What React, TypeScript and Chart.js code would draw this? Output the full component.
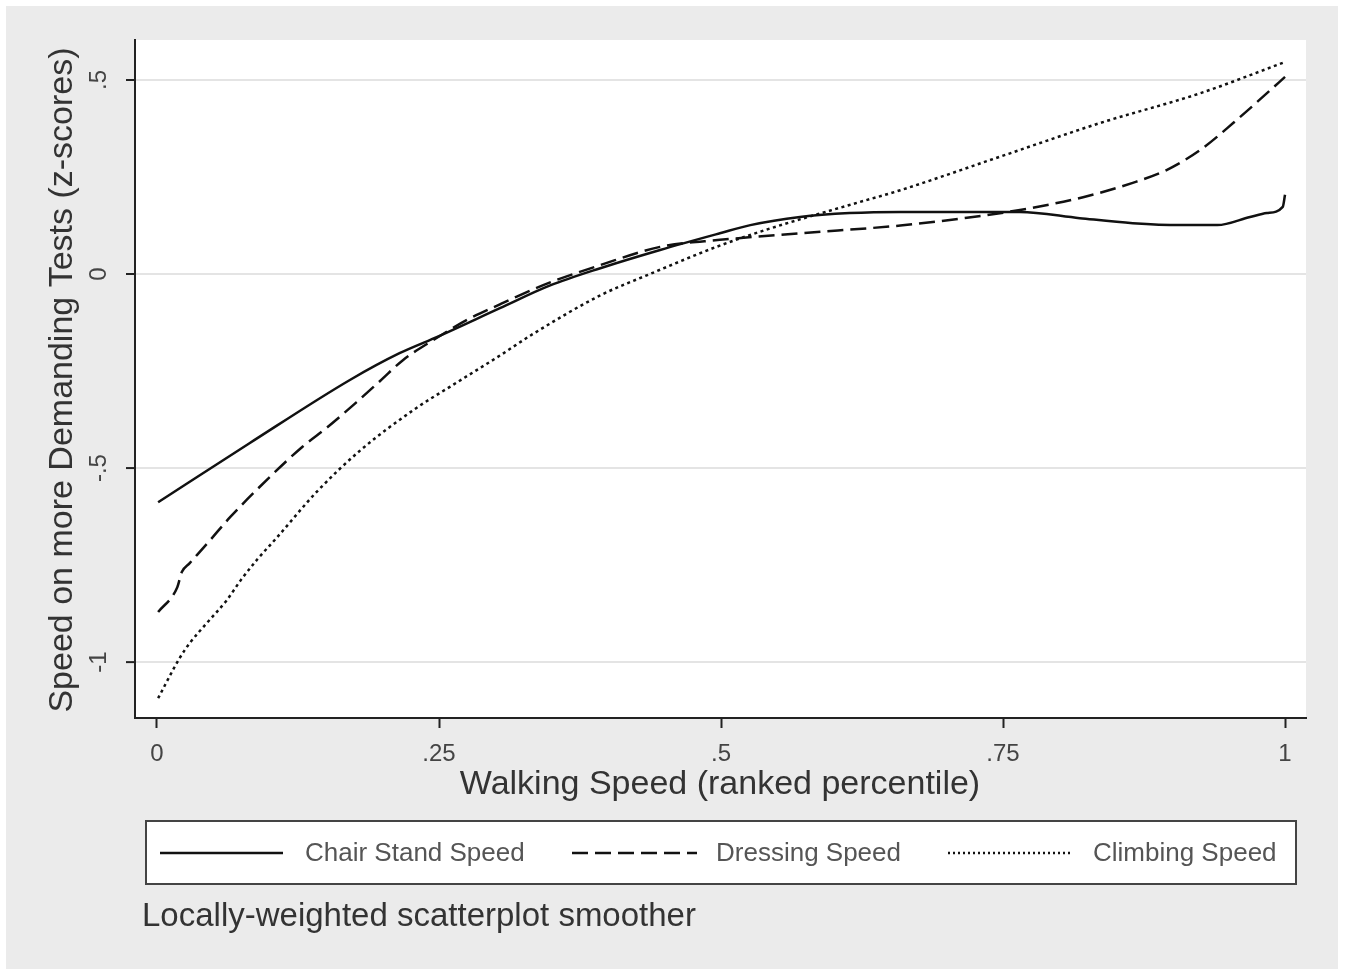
import React, { useEffect, useRef } from 'react';
import { Chart, registerables } from 'chart.js';

Chart.register(...registerables);

const xTicks = [0, 0.25, 0.5, 0.75, 1];
const xTickLabels = ['0', '.25', '.5', '.75', '1'];
const yTicks = [-1, -0.5, 0, 0.5];
const yTickLabels = ['-1', '-.5', '0', '.5'];

const seriesNames = ['Chair Stand Speed', 'Dressing Speed', 'Climbing Speed'];

const chairX = [0.001, 0.082, 0.171, 0.215, 0.25, 0.304, 0.348, 0.393, 0.446, 0.499, 0.526, 0.57, 0.614, 0.659, 0.712, 0.765, 0.818, 0.865, 0.907, 0.94, 0.969, 0.984, 0.998, 1.0];
const chairY = [-0.588, -0.436, -0.273, -0.204, -0.16, -0.088, -0.03, 0.015, 0.062, 0.105, 0.126, 0.147, 0.157, 0.16, 0.16, 0.16, 0.144, 0.131, 0.126, 0.126, 0.147, 0.157, 0.173, 0.204];

const dressX = [0.001, 0.018, 0.022, 0.029, 0.047, 0.065, 0.1, 0.129, 0.151, 0.177, 0.198, 0.218, 0.245, 0.275, 0.304, 0.319, 0.35, 0.393, 0.446, 0.499, 0.57, 0.659, 0.718, 0.765, 0.821, 0.865, 0.895, 0.925, 0.954, 0.984, 1.0];
const dressY = [-0.871, -0.807, -0.768, -0.745, -0.686, -0.626, -0.523, -0.445, -0.395, -0.33, -0.275, -0.222, -0.17, -0.118, -0.078, -0.058, -0.02, 0.023, 0.07, 0.088, 0.105, 0.125, 0.145, 0.165, 0.198, 0.235, 0.268, 0.32, 0.389, 0.466, 0.508];

const climbX = [0.001, 0.02, 0.029, 0.044, 0.062, 0.074, 0.089, 0.106, 0.142, 0.18, 0.23, 0.26, 0.304, 0.333, 0.393, 0.437, 0.496, 0.541, 0.614, 0.659, 0.747, 0.836, 0.925, 0.998];
const climbY = [-1.093, -0.99, -0.951, -0.9, -0.84, -0.79, -0.735, -0.68, -0.56, -0.455, -0.345, -0.29, -0.21, -0.155, -0.055, 0.0, 0.07, 0.115, 0.178, 0.216, 0.302, 0.389, 0.466, 0.544];

const FONT = '"Liberation Sans", Arial, sans-serif';

const zip = (xs: number[], ys: number[]) => xs.map((x, i) => ({ x, y: ys[i] }));

const decorPlugin = {
  id: 'decor',
  beforeDraw(chart: any) {
    const { ctx, chartArea } = chart;
    ctx.save();
    ctx.fillStyle = '#ffffff';
    ctx.fillRect(0, 0, chart.width, chart.height);
    ctx.fillStyle = '#ebebeb';
    ctx.fillRect(6, 6, 1332, 963);
    ctx.fillStyle = '#ffffff';
    ctx.fillRect(chartArea.left, chartArea.top, chartArea.right - chartArea.left, chartArea.bottom - chartArea.top);
    ctx.restore();
  },
  afterDraw(chart: any) {
    const { ctx } = chart;
    const yScale = chart.scales.y;
    ctx.save();
    // y tick marks and rotated labels
    ctx.strokeStyle = '#222';
    ctx.lineWidth = 2;
    ctx.fillStyle = '#444';
    ctx.font = `24px ${FONT}`;
    ctx.textAlign = 'center';
    ctx.textBaseline = 'middle';
    yTicks.forEach((v, i) => {
      const py = yScale.getPixelForValue(v);
      ctx.beginPath();
      ctx.moveTo(yScale.right - 9, py);
      ctx.lineTo(yScale.right, py);
      ctx.stroke();
      ctx.save();
      ctx.translate(99, py);
      ctx.rotate(-Math.PI / 2);
      ctx.fillText(yTickLabels[i], 0, 0);
      ctx.restore();
    });
    // axis titles
    ctx.fillStyle = '#333';
    ctx.font = `34px ${FONT}`;
    ctx.fillText('Walking Speed (ranked percentile)', 720, 785);
    ctx.save();
    ctx.translate(63, 380);
    ctx.rotate(-Math.PI / 2);
    ctx.fillText('Speed on more Demanding Tests (z-scores)', 0, 0);
    ctx.restore();
    // legend box
    ctx.fillStyle = '#ffffff';
    ctx.fillRect(146, 821, 1150, 63);
    ctx.strokeStyle = '#444';
    ctx.lineWidth = 2;
    ctx.strokeRect(146, 821, 1150, 63);
    const ly = 853;
    const entries = [
      { x0: 160, x1: 283, tx: 305, dash: [] as number[] },
      { x0: 572, x1: 697, tx: 716, dash: [16, 7] },
      { x0: 948, x1: 1072, tx: 1093, dash: [2, 3] },
    ];
    entries.forEach((e, i) => {
      ctx.strokeStyle = '#111';
      ctx.lineWidth = 2.5;
      ctx.setLineDash(e.dash);
      ctx.beginPath();
      ctx.moveTo(e.x0, ly);
      ctx.lineTo(e.x1, ly);
      ctx.stroke();
      ctx.setLineDash([]);
      ctx.fillStyle = '#555';
      ctx.font = `26px ${FONT}`;
      ctx.textAlign = 'left';
      ctx.textBaseline = 'middle';
      ctx.fillText(seriesNames[i], e.tx, ly + 1);
    });
    // note
    ctx.fillStyle = '#333';
    ctx.font = `33px ${FONT}`;
    ctx.textAlign = 'left';
    ctx.textBaseline = 'middle';
    ctx.fillText('Locally-weighted scatterplot smoother', 142, 917);
    ctx.restore();
  },
};

export default function App() {
  const canvasRef = useRef<HTMLCanvasElement | null>(null);

  useEffect(() => {
    document.body.style.margin = '0';
    const canvas = canvasRef.current;
    if (!canvas) return;
    const common = {
      borderColor: '#111',
      borderWidth: 2.5,
      pointRadius: 0,
      cubicInterpolationMode: 'monotone' as const,
      fill: false,
    };
    const chart = new Chart(canvas, {
      type: 'line',
      data: {
        datasets: [
          { ...common, label: seriesNames[0], data: zip(chairX, chairY), borderDash: [] },
          { ...common, label: seriesNames[1], data: zip(dressX, dressY), borderDash: [16, 7] },
          { ...common, label: seriesNames[2], data: zip(climbX, climbY), borderDash: [3, 3.5] },
        ],
      },
      options: {
        responsive: false,
        animation: false,
        layout: { padding: { left: 0, right: 39, top: 40, bottom: 0 } },
        plugins: {
          legend: { display: false },
          tooltip: { enabled: false },
        },
        scales: {
          x: {
            type: 'linear',
            min: -0.0195,
            max: 1.0186,
            afterBuildTicks: (s: any) => {
              s.ticks = xTicks.map((v) => ({ value: v }));
            },
            afterFit: (s: any) => {
              s.height = 251;
            },
            ticks: {
              autoSkip: false,
              maxRotation: 0,
              minRotation: 0,
              padding: 12,
              color: '#444',
              font: { family: FONT, size: 24 },
              callback: (v: any) => {
                const i = xTicks.indexOf(Number(v));
                return i >= 0 ? xTickLabels[i] : '';
              },
            },
            grid: {
              drawOnChartArea: false,
              drawTicks: true,
              tickLength: 10,
              tickColor: '#222',
              tickWidth: 2,
            },
            border: { color: '#222', width: 2 },
          },
          y: {
            type: 'linear',
            min: -1.144,
            max: 0.603,
            afterBuildTicks: (s: any) => {
              s.ticks = yTicks.map((v) => ({ value: v }));
            },
            afterFit: (s: any) => {
              s.width = 135;
            },
            ticks: { display: false },
            grid: {
              color: '#e4e4e4',
              lineWidth: 2,
              drawTicks: false,
            },
            border: { color: '#222', width: 2 },
          },
        },
      },
      plugins: [decorPlugin],
    });
    return () => chart.destroy();
  }, []);

  return (
    <canvas
      ref={canvasRef}
      width={1345}
      height={969}
      style={{ display: 'block', width: 1345, height: 969 }}
    />
  );
}
